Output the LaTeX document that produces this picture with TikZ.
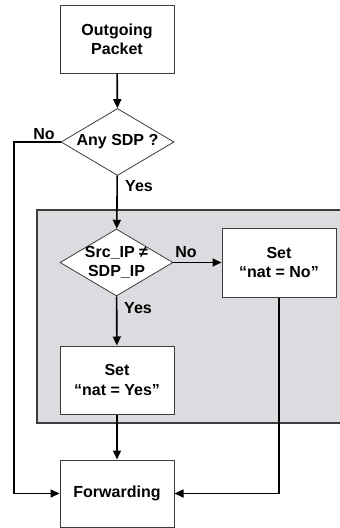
\documentclass[tikz,border=0pt]{standalone}
\usepackage{fontspec}
\setmainfont{Liberation Sans}
\usetikzlibrary{shapes.geometric,arrows.meta}
\definecolor{panel}{RGB}{220,219,223}
\definecolor{edge}{RGB}{60,60,60}
\tikzset{
  txt/.style={font=\bfseries\fontsize{16}{19.5}\selectfont},
  box/.style={txt,draw=edge,line width=1pt,fill=white,rectangle,minimum width=114pt,minimum height=68pt,inner sep=1pt,align=center},
  dec/.style={draw=edge,line width=0.8pt,fill=white,diamond,minimum width=113pt,minimum height=67pt,inner sep=0pt},
  dectext/.style={txt,align=center,inner sep=0pt},
  conn/.style={line width=1.6pt,-{Triangle[length=9pt,width=8pt]}},
  lab/.style={txt,inner sep=0pt}
}
\begin{document}
\begin{tikzpicture}[x=1pt,y=-1pt]
\useasboundingbox (0,0) rectangle (340,528);
\fill[panel] (37,210) rectangle (345,423);
\draw[edge,line width=1.4pt] (345,210) -- (37,210) -- (37,423) -- (345,423);
\node[box] (op) at (117,39.5) {Outgoing\\Packet};
\node[dec] (sdp) at (117.5,142) {};
\node[dectext] (sdpt) at (sdp) {Any SDP ?};
\node[dec] (ip) at (116.5,262.5) {};
\node[dectext] (ipt) at (ip) {Src\_IP ≠\\SDP\_IP};
\node[box,minimum height=69pt] (nono) at (279,262.5) {Set\\“nat = No”};
\node[box] (yes) at (117,380) {Set\\“nat = Yes”};
\node[box,minimum height=67pt] (fwd) at (117,493.5) {Forwarding};
\coordinate (lft) at (14,142);
\draw[conn] (op) -- (sdp);
\draw[conn] (sdp.west) -- (lft) |- (fwd.west);
\draw[conn] (sdp) -- (ip);
\draw[conn] (ip.east) -- (nono.west);
\draw[conn] (ip) -- (yes);
\draw[conn] (yes) -- (fwd);
\draw[conn] (nono.south) |- (fwd.east);
\node[lab] (l1) at (44,134) {No};
\node[lab] (l2) at (139,186) {Yes};
\node[lab] (l3) at (186,252) {No};
\node[lab] (l4) at (138,308) {Yes};
\end{tikzpicture}
\end{document}
